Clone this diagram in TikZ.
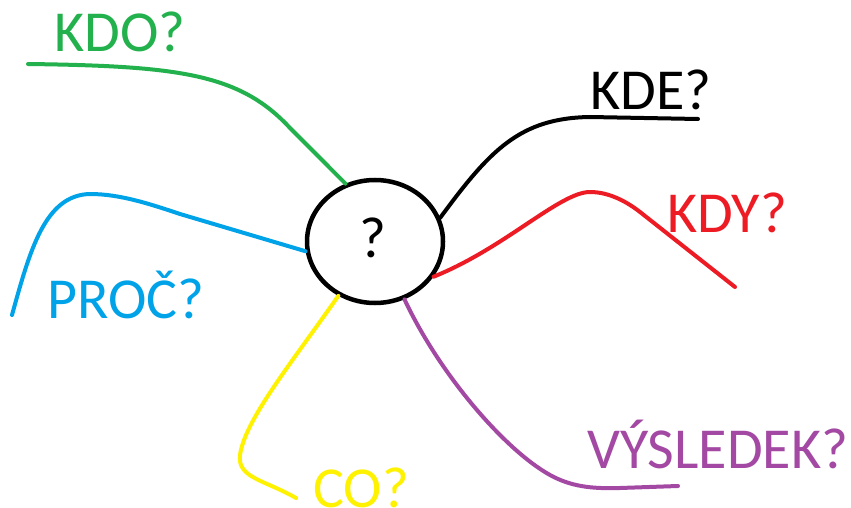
\documentclass[tikz,border=0pt]{standalone}
\usepackage{fontspec}
\setmainfont{Carlito}
\usetikzlibrary{shapes.geometric}
\definecolor{pgreen}{RGB}{34,177,76}
\definecolor{pred}{RGB}{237,28,36}
\definecolor{pblue}{RGB}{0,162,232}
\definecolor{pyellow}{RGB}{255,242,0}
\definecolor{ppurple}{RGB}{163,73,164}
\tikzset{
  lbl/.style={font=\fontsize{58}{60}\selectfont, inner sep=0pt, anchor=base west},
  branch/.style={line width=4pt, line cap=round, line join=round},
  hub/.style={ellipse, draw, line width=4.5pt, minimum width=136pt, minimum height=123pt, inner sep=0pt}
}
\begin{document}
\begin{tikzpicture}[x=1pt,y=-1pt]
\useasboundingbox (0,0) rectangle (851,508);
\fill[white] (0,0) rectangle (851,508);
% hub
\node[hub] (c) at (375,241.5) {};
\node[font=\fontsize{58}{60}\selectfont, inner sep=0pt, anchor=base] (q) at (372.5,257) {?};
% free ends
\coordinate (g0) at (28,64);
\coordinate (k1) at (698,119);
\coordinate (r1) at (735,287);
\coordinate (b0) at (12,315);
\coordinate (y1) at (296,498);
\coordinate (p1) at (678,486);
% branches
\draw[branch, pgreen] (g0) .. controls (180,66) and (240,74) .. (290,128) -- (c.117);
\draw[branch, black] (c.20) .. controls (490,150) and (520,118) .. (590,117) -- (k1);
\draw[branch, pred] (c.-31) .. controls (505,248) and (560,192) .. (590,192) .. controls (605,192) and (622,198) .. (640,212) -- (r1);
\draw[branch, pblue] (b0) .. controls (30,250) and (45,195) .. (90,194) .. controls (120,194) and (150,204) .. (180,214) -- (c.188);
\draw[branch, pyellow] (c.236) .. controls (290,365) and (245,420) .. (240,455) .. controls (237,478) and (265,480) .. (y1);
\draw[branch, ppurple] (c.297) .. controls (440,375) and (505,450) .. (550,475) .. controls (570,486) and (590,489) .. (620,488) -- (p1);
% labels
\node[lbl, pgreen] (kdo) at (54,52) {KDO?};
\node[lbl, black] (kde) at (590,110) {KDE?};
\node[lbl, pred] (kdy) at (667,232) {KDY?};
\node[lbl, pblue] (proc) at (47,318) {PROČ?};
\node[lbl, pyellow] (co) at (313,507) {CO?};
\node[lbl, ppurple] (vys) at (587,468) {VÝSLEDEK?};
\end{tikzpicture}
\end{document}
